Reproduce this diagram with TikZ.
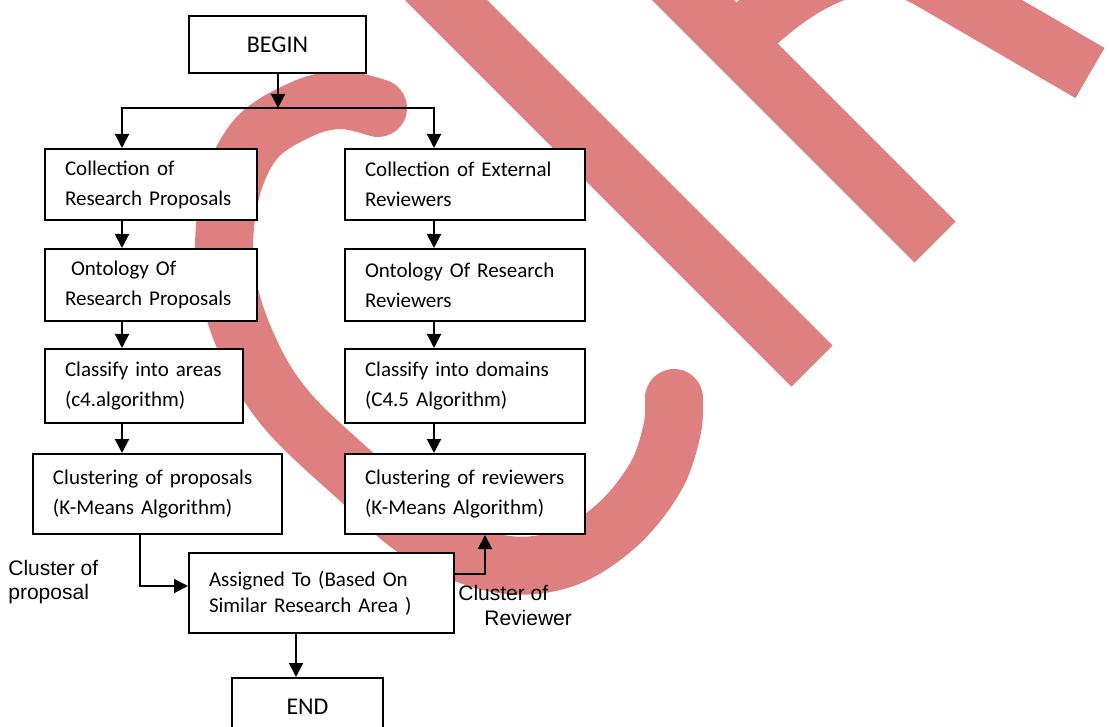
\documentclass[tikz,border=0pt]{standalone}
\usepackage{fontspec}
\setmainfont{Carlito}
\newfontfamily\arialfont{Liberation Sans}
\usetikzlibrary{arrows.meta}
\definecolor{stampred}{RGB}{222,128,128}

\begin{document}
\begin{tikzpicture}[x=0.5pt,y=-0.5pt,
        box/.style={draw,line width=1pt,fill=white,anchor=north west,align=left,
            inner xsep=10pt,inner ysep=0pt,font=\fontsize{10.5}{15}\selectfont},
        term/.style={draw,line width=1pt,fill=white,anchor=north west,
            font=\fontsize{12}{14}\selectfont},
        arr/.style={line width=1pt,-{Triangle[length=7pt,width=7pt]}},
        stamp/.style={draw=stampred,line width=29pt},
        note/.style={anchor=base west,inner sep=0pt,font=\arialfont\fontsize{10.5}{12}\selectfont}]

    \clip (0,0) rectangle (1109,727);

    % watermark behind the chart
    \draw[stamp,line cap=round] plot[smooth,tension=0.6] coordinates {(378,108) (340,100) (300,110)
        (255,140) (230,195) (225,268) (245,340) (285,408) (360,480) (420,532) (495,563)
        (560,560) (615,527) (655,478) (672,430) (674,398)};
    \draw[stamp] (416,-30) -- (812,366);
    \draw[stamp] (663,-30) -- (935,242);
    \draw[stamp] (736,43) .. controls (790,-11) and (860,-61) .. (930,-20) -- (1090,73);

    % boxes
    \node[term,minimum width=88.5pt,minimum height=28.5pt] (begin) at (188,15) {BEGIN};
    \node[box,text width=86pt,minimum height=35.5pt] (colprop) at (44,148) {Collection of\\Research Proposals};
    \node[box,text width=100pt,minimum height=35.5pt] (colrev) at (344,148) {Collection of External\\Reviewers};
    \node[box,text width=86pt,minimum height=36pt] (ontprop) at (44,248) {\hspace*{3pt}Ontology Of\\Research Proposals};
    \node[box,text width=100pt,minimum height=36pt] (ontrev) at (344,248) {Ontology Of Research\\Reviewers};
    \node[box,text width=79pt,minimum height=37pt] (clsprop) at (44,348) {Classify into areas\\(c4.algorithm)};
    \node[box,text width=100pt,minimum height=37pt] (clsrev) at (344,348) {Classify into domains\\(C4.5 Algorithm)};
    \node[box,text width=104.5pt,minimum height=40pt] (grpprop) at (32,453) {Clustering of proposals\\(K-Means Algorithm)};
    \node[box,text width=100pt,minimum height=40pt] (grprev) at (344,453) {Clustering of reviewers\\(K-Means Algorithm)};
    \node[box,text width=112.5pt,minimum height=40pt,font=\fontsize{10.5}{13}\selectfont] (assign) at (188,552) {Assigned To (Based On\\Similar Research Area )};
    \node[term,minimum width=75.5pt,minimum height=29pt] (finish) at (231,677) {END};

    % side labels
    \node[note] (lblprop) at (8,575) {Cluster of};
    \node[note] (lblprop2) at (8,599) {proposal};
    \node[note] (lblrev) at (458,600) {Cluster of};
    \node[note] (lblrev2) at (484,625) {Reviewer};

    % connectors
    \coordinate (split) at (278,108);
    \coordinate (splitl) at (122,108);
    \coordinate (splitr) at (434,108);
    \coordinate (bendl) at (140,586);
    \coordinate (bendr) at (485,574);
    \coordinate (drop) at (296,640);
    \draw[arr] (begin.south -| split) -- (split);
    \draw[arr] (split) -| (colprop.north -| splitl);
    \draw[arr] (split) -| (colrev.north -| splitr);
    \foreach \a/\b in {colprop/ontprop,ontprop/clsprop,clsprop/grpprop}
        \draw[arr] (\a.south -| splitl) -- (\b.north -| splitl);
    \foreach \a/\b in {colrev/ontrev,ontrev/clsrev,clsrev/grprev}
        \draw[arr] (\a.south -| splitr) -- (\b.north -| splitr);
    \draw[arr] (grpprop.south -| bendl) |- (assign.west |- bendl);
    \draw[arr] (assign.east |- bendr) -| (grprev.south -| bendr);
    \draw[arr] (assign.south -| drop) -- (finish.north -| drop);

\end{tikzpicture}
\end{document}
